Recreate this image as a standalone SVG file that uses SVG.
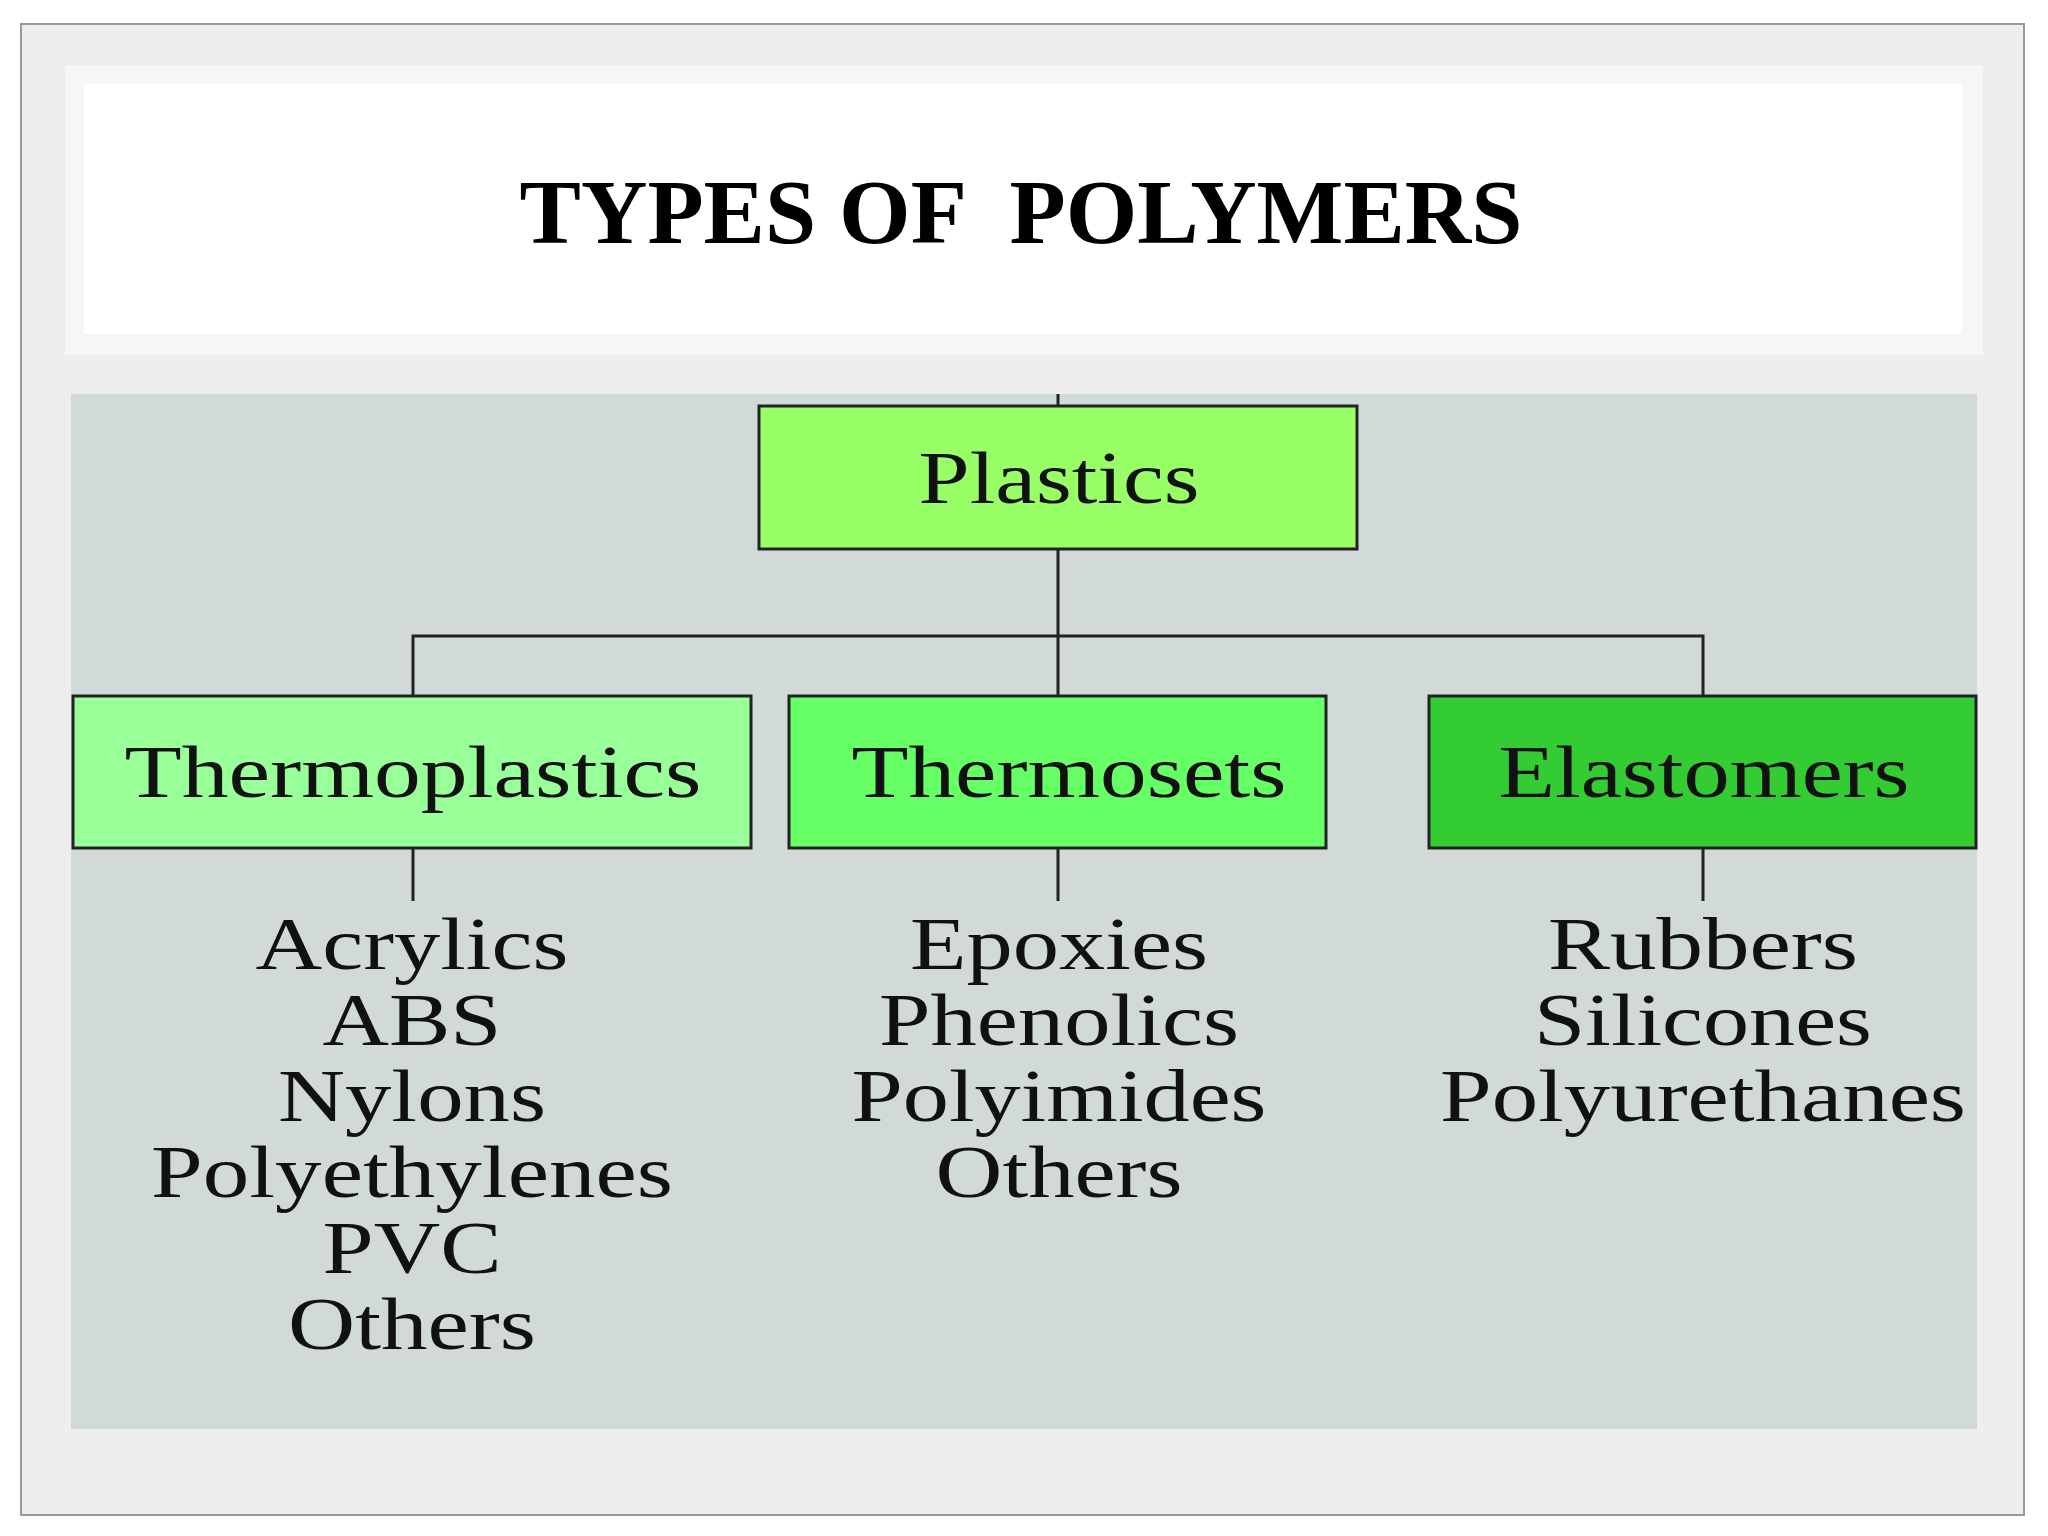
<svg xmlns="http://www.w3.org/2000/svg" width="2048" height="1536" viewBox="0 0 2048 1536">
<style>
.t{font-family:"Liberation Serif","Times New Roman",serif;font-size:74px;text-anchor:middle;fill:#111}
.b{stroke:#222;stroke-width:3}
.c{stroke:#222;stroke-width:3;fill:none}
</style>
<rect width="2048" height="1536" fill="#fff"/>
<rect x="21" y="24" width="2003" height="1491" fill="#eeeeee" stroke="#999" stroke-width="2"/>
<rect x="65" y="65" width="1918" height="290" fill="#f6f6f6"/>
<rect x="84" y="84" width="1878" height="250" fill="#fff"/>
<text x="1021" y="243" font-family="Liberation Serif,serif" font-weight="bold" font-size="92" text-anchor="middle" fill="#000" xml:space="preserve">TYPES OF  POLYMERS</text>
<rect x="71" y="394" width="1906" height="1035" fill="#d1dad9"/>
<g id="connectors">
<path class="c" d="M1058 394V406M1058 549V696M413 696V636H1703V696M413 848V901M1058 848V901M1703 848V901"/>
</g>
<g id="plastics"><rect class="b" x="759" y="406" width="598" height="143" fill="#99ff66"/><text class="t" x="1059" y="503" textLength="281" lengthAdjust="spacingAndGlyphs">Plastics</text></g>
<g id="thermoplastics"><rect class="b" x="73" y="696" width="678" height="152" fill="#99ff99"/><text class="t" x="413" y="797" textLength="577" lengthAdjust="spacingAndGlyphs">Thermoplastics</text></g>
<g id="thermosets"><rect class="b" x="789" y="696" width="537" height="152" fill="#66ff66"/><text class="t" x="1069" y="797" textLength="435" lengthAdjust="spacingAndGlyphs">Thermosets</text></g>
<g id="elastomers"><rect class="b" x="1429" y="696" width="547" height="152" fill="#33cc33"/><text class="t" x="1704" y="797" textLength="411" lengthAdjust="spacingAndGlyphs">Elastomers</text></g>
<g id="list1">
<text class="t" x="412" y="969" textLength="313" lengthAdjust="spacingAndGlyphs">Acrylics</text>
<text class="t" x="412" y="1045" textLength="179" lengthAdjust="spacingAndGlyphs">ABS</text>
<text class="t" x="412" y="1121" textLength="268" lengthAdjust="spacingAndGlyphs">Nylons</text>
<text class="t" x="412" y="1197" textLength="522" lengthAdjust="spacingAndGlyphs">Polyethylenes</text>
<text class="t" x="412" y="1273" textLength="179" lengthAdjust="spacingAndGlyphs">PVC</text>
<text class="t" x="412" y="1349" textLength="248" lengthAdjust="spacingAndGlyphs">Others</text>
</g>
<g id="list2">
<text class="t" x="1059" y="969" textLength="298" lengthAdjust="spacingAndGlyphs">Epoxies</text>
<text class="t" x="1059" y="1045" textLength="360" lengthAdjust="spacingAndGlyphs">Phenolics</text>
<text class="t" x="1059" y="1121" textLength="415" lengthAdjust="spacingAndGlyphs">Polyimides</text>
<text class="t" x="1059" y="1197" textLength="247" lengthAdjust="spacingAndGlyphs">Others</text>
</g>
<g id="list3">
<text class="t" x="1703" y="969" textLength="310" lengthAdjust="spacingAndGlyphs">Rubbers</text>
<text class="t" x="1703" y="1045" textLength="338" lengthAdjust="spacingAndGlyphs">Silicones</text>
<text class="t" x="1703" y="1121" textLength="526" lengthAdjust="spacingAndGlyphs">Polyurethanes</text>
</g>
</svg>
